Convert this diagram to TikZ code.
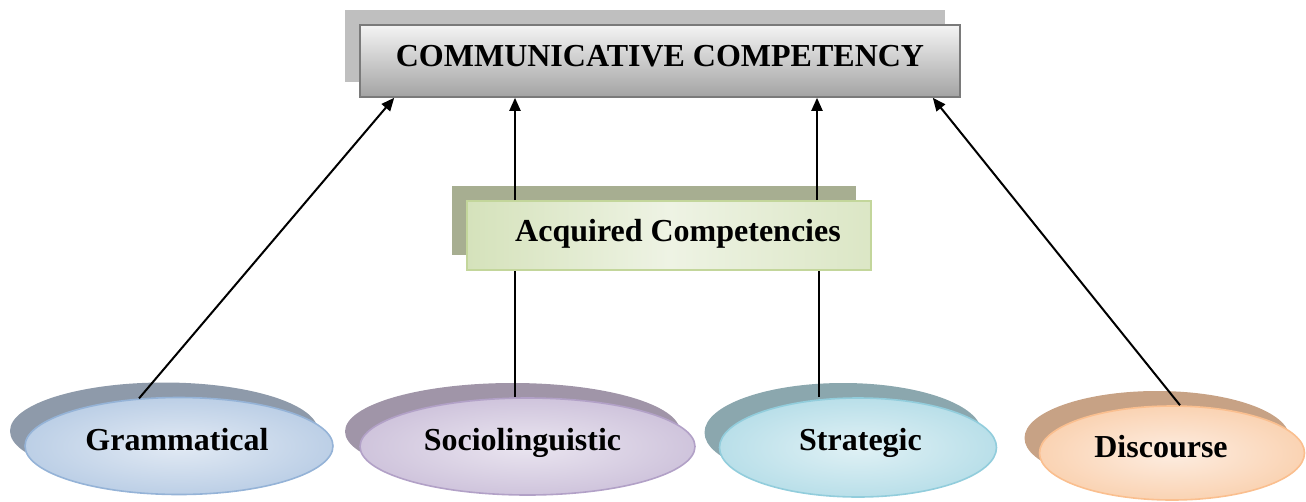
\documentclass[tikz,border=0pt]{standalone}
\usepackage{fontspec}
\setmainfont{Liberation Serif}
\usetikzlibrary{shapes.geometric,shadows,arrows.meta}
\definecolor{topshadow}{HTML}{BFBFBF}
\definecolor{topborder}{HTML}{7A7A7A}
\definecolor{topA}{HTML}{F4F4F4}
\definecolor{topB}{HTML}{A3A3A3}
\definecolor{midshadow}{HTML}{A7AE91}
\definecolor{midborder}{HTML}{C3D69B}
\definecolor{midA}{HTML}{D5E2BB}
\definecolor{midB}{HTML}{EEF3E4}
\definecolor{gramS}{HTML}{8E9AAA}
\definecolor{gramD}{HTML}{95B3D7}
\definecolor{gramIn}{HTML}{E2EAF4}
\definecolor{gramOut}{HTML}{BCCFE6}
\definecolor{socS}{HTML}{A095A8}
\definecolor{socD}{HTML}{B2A1C7}
\definecolor{socIn}{HTML}{EAE5F0}
\definecolor{socOut}{HTML}{CFC4DC}
\definecolor{strS}{HTML}{8BA7AE}
\definecolor{strD}{HTML}{92CDDC}
\definecolor{strIn}{HTML}{E0F1F5}
\definecolor{strOut}{HTML}{B9DFE9}
\definecolor{disS}{HTML}{C7A285}
\definecolor{disD}{HTML}{FABF8F}
\definecolor{disIn}{HTML}{FDEDE1}
\definecolor{disOut}{HTML}{FAD3B3}
\newcommand\baseat[2]{\raisebox{-#1}[0pt][0pt]{#2}}
\tikzset{
  lbl/.style={font=\bfseries\fontsize{32}{37}\selectfont, text=black},
  sh/.style={general shadow={fill=#1, shadow xshift=-15pt, shadow yshift=15pt}},
  bub/.style={ellipse, lbl, inner sep=0pt, line width=1.6pt},
  conn/.style={line width=2pt, black},
  arr/.style={conn, -{Triangle[length=13pt,width=11pt]}}
}
\begin{document}
\begin{tikzpicture}[x=1pt,y=-1pt]
\useasboundingbox (0,0) rectangle (1306,501);
\node[lbl, rectangle, inner sep=0pt, minimum width=600pt, minimum height=72pt, draw=topborder, line width=1.6pt,
  top color=topA, bottom color=topB, sh=topshadow] (top) at (660,61) {\baseat{5pt}{COMMUNICATIVE COMPETENCY}};
\node[lbl, rectangle, inner sep=0pt, minimum width=404pt, minimum height=69pt, draw=midborder, line width=1.6pt,
  left color=midA, right color=midA!85!white, middle color=midB, sh=midshadow] (mid) at (669,235.5) {\baseat{6pt}{\hspace*{18pt}Acquired Competencies}};
\node[bub, minimum width=308pt, minimum height=97pt, draw=gramD, inner color=gramIn, outer color=gramOut, sh=gramS] (gram) at (179,446) {\baseat{4pt}{\hspace*{-4pt}Grammatical}};
\node[bub, minimum width=335pt, minimum height=97pt, draw=socD, inner color=socIn, outer color=socOut, sh=socS] (soc) at (527.5,446.5) {\baseat{4pt}{\hspace*{-10pt}Sociolinguistic}};
\node[bub, minimum width=277pt, minimum height=99pt, draw=strD, inner color=strIn, outer color=strOut, sh=strS] (str) at (858,447.5) {\baseat{3pt}{\hspace*{5pt}Strategic}};
\node[bub, minimum width=265pt, minimum height=94pt, draw=disD, inner color=disIn, outer color=disOut, sh=disS] (dis) at (1172,453) {\baseat{4pt}{\hspace*{-22pt}Discourse}};
\draw[arr] (gram.130) -- ([xshift=35pt]top.south west);
\draw[conn] ([xshift=-12.5pt]soc.north) -- ([xshift=-154pt]mid.south);
\draw[arr] ([xshift=-154pt]mid.north) -- ([xshift=-145pt]top.south);
\draw[conn] ([xshift=-39pt]str.north) -- ([xshift=150pt]mid.south);
\draw[arr] ([xshift=148pt]mid.north) -- ([xshift=157pt]top.south);
\draw[arr] ([xshift=8pt]dis.north) -- ([xshift=-28pt]top.south east);
\end{tikzpicture}
\end{document}
